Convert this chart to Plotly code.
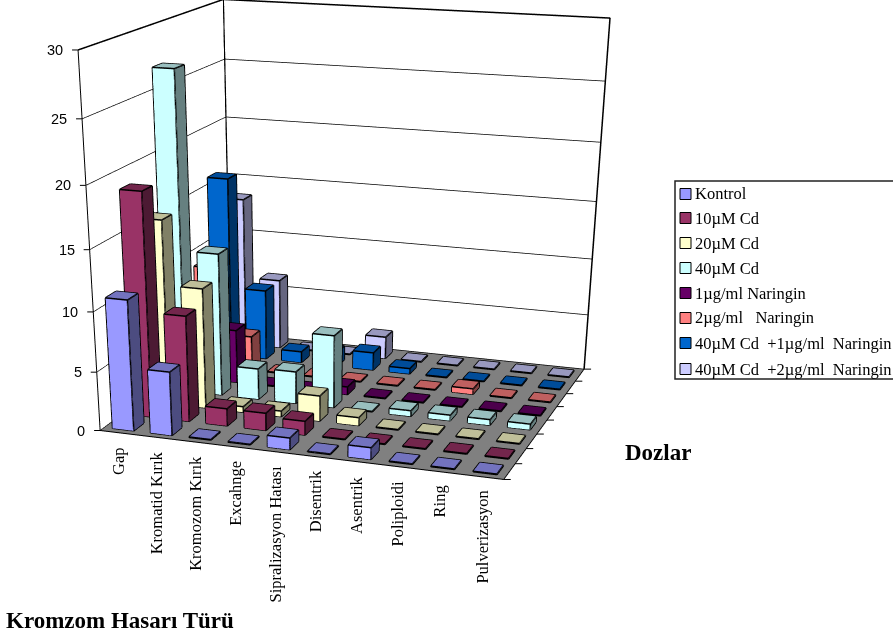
import plotly.graph_objects as go

categories = ["Gap","Kromatid Kırık","Kromozom Kırık","Excahnge","Sipralizasyon Hatası","Disentrik","Asentrik","Poliploidi","Ring","Pulverizasyon"]
series_names = ["Kontrol","10µM Cd","20µM Cd","40µM Cd","1µg/ml Naringin","2µg/ml \u00a0 Naringin","40µM Cd \u00a0+1µg/ml \u00a0Naringin","40µM Cd \u00a0+2µg/ml \u00a0Naringin"]
colors = ["#9999FF","#993366","#FFFFCC","#CCFFFF","#660066","#FF8080","#0066CC","#CCCCFF"]
kontrol = [11,5.4,0,0,1,0,1,0,0,0]
cd10 = [18.8,9,1.5,1.5,1.2,0,0,0,0,0]
cd20 = [15.7,10.3,.5,.5,2.2,.7,0,0,0,0]
cd40 = [27,12.3,2.7,2.8,6.3,0,.5,.5,.5,.5]
nar1 = [3,4.7,0,0,.7,0,0,0,0,0]
nar2 = [9,3.1,0,0,0,0,0,.5,0,0]
cd40nar1 = [16,6.3,1,1.3,1.6,.5,0,0,0,0]
cd40nar2 = [13.4,6.3,0,0,2,0,0,0,0,0]
values = [kontrol,cd10,cd20,cd40,nar1,nar2,cd40nar1,cd40nar2]
ztick = [0,5,10,15,20,25,30]

# The tall canvas gives the 3D scene a long focal length; the page shows its top part.
W, H = 893, 1556
VIEW_W = 622
EYE = dict(x=1.4157,y=-4.3682,z=1.0854)
CENTER = dict(x=0.1332,y=-0.7005,z=-1.1328)
UP = dict(x=0,y=0,z=1)
ASPECT = dict(x=1,y=0.8609,z=0.8653)

def bars():
    out=[]
    gap=0.22
    for s,row in enumerate(values):
        xs,ys,zs,i,j,k,fc=[],[],[],[],[],[],[]
        lx,ly,lz=[],[],[]
        base=colors[s]
        r,g,b=int(base[1:3],16),int(base[3:5],16),int(base[5:7],16)
        top=f"rgb({r*.75:.0f},{g*.75:.0f},{b*.75:.0f})"
        side=f"rgb({r*.5:.0f},{g*.5:.0f},{b*.5:.0f})"
        for c,v in enumerate(row):
            # zero values still show as a thin plate on the floor
            h=max(v,0.06)
            x0,x1=c+gap,c+1-gap
            y0,y1=s+gap,s+1-gap
            n=len(xs)
            xs+=[x0,x1,x1,x0,x0,x1,x1,x0]
            ys+=[y0,y0,y1,y1,y0,y0,y1,y1]
            zs+=[0,0,0,0,h,h,h,h]
            for a,bb,cc,col in [(0,1,5,base),(0,5,4,base),(1,2,6,side),(1,6,5,side),(4,5,6,top),(4,6,7,top)]:
                i.append(n+a);j.append(n+bb);k.append(n+cc);fc.append(col)
            for a,bb in [(0,1),(1,5),(5,4),(4,0),(1,2),(2,6),(6,5),(6,7),(7,4)]:
                lx+=[xs[n+a],xs[n+bb],None];ly+=[ys[n+a],ys[n+bb],None];lz+=[zs[n+a],zs[n+bb],None]
        out.append(go.Mesh3d(x=xs,y=ys,z=zs,i=i,j=j,k=k,facecolor=fc,flatshading=True,
            lighting=dict(ambient=1,diffuse=0,specular=0,fresnel=0),hoverinfo="skip",showscale=False))
        out.append(go.Scatter3d(x=lx,y=ly,z=lz,mode="lines",line=dict(color="black",width=3),hoverinfo="skip",showlegend=False))
    return out

fig=go.Figure(bars())
# wall top edges and the back corner
fig.add_trace(go.Scatter3d(x=[0,0,10,10,None,0,0],y=[0,8,8,8,None,8,8],z=[30,30,30,0,None,0,30],mode="lines",line=dict(color="black",width=3),showlegend=False,hoverinfo="skip"))

axis=dict(showbackground=True,backgroundcolor="white",showgrid=False,zeroline=False,showticklabels=False,
          showline=True,linecolor="black",linewidth=2,ticks="",title=dict(text=""),showspikes=False)
tick=dict(showarrow=True,arrowhead=0,arrowwidth=1,arrowcolor="black",standoff=0,text=" ")
scene_ann=[dict(x=c+.5,y=0,z=0,text=t,textangle=-90,showarrow=False,xanchor="center",yanchor="top",yshift=-12,
               font=dict(family="Liberation Serif",size=16.5,color="black")) for c,t in enumerate(categories)]
scene_ann+=[dict(x=0,y=0,z=v,text=str(v),showarrow=False,xanchor="right",xshift=-13,
               font=dict(family="Liberation Sans",size=14.5,color="black")) for v in ztick]
scene_ann+=[dict(tick,x=0,y=0,z=v,ax=-9,ay=0) for v in ztick]
scene_ann+=[dict(tick,x=c,y=0,z=0,ax=0,ay=10) for c in range(11)]
scene_ann+=[dict(tick,x=10,y=s,z=0,ax=10,ay=0) for s in range(9)]

def px(x): return x/W
def py(y): return 1-y/H
shapes=[dict(type="rect",xref="paper",yref="paper",x0=px(675),x1=1.01,y0=py(181),y1=py(379),line=dict(color="#222222",width=1.5),fillcolor="white")]
ann=[]
ys=[194,218,243,268,293,318,343,369]
for yy,c,n in zip(ys,colors,series_names):
    shapes.append(dict(type="rect",xref="paper",yref="paper",x0=px(680),x1=px(691),y0=py(yy-5.5),y1=py(yy+5.5),line=dict(color="black",width=1),fillcolor=c))
    ann.append(dict(xref="paper",yref="paper",x=px(695),y=py(yy),text=n,showarrow=False,xanchor="left",xshift=-2,yanchor="middle",font=dict(family="Liberation Serif",size=16.5,color="black")))
ann.append(dict(xref="paper",yref="paper",x=px(625),y=py(453),text="<b>Dozlar</b>",showarrow=False,xanchor="left",xshift=-2,yanchor="middle",font=dict(family="Liberation Serif",size=23,color="black")))
ann.append(dict(xref="paper",yref="paper",x=px(6),y=py(620),text="<b>Kromzom Hasarı Türü</b>",showarrow=False,xanchor="left",xshift=-2,yanchor="middle",font=dict(family="Liberation Serif",size=23,color="black")))

fig.update_layout(width=W,height=H,margin=dict(l=0,r=0,t=0,b=0),paper_bgcolor="white",showlegend=False,shapes=shapes,annotations=ann,
  scene=dict(domain=dict(x=[0,VIEW_W/W],y=[0,1]),aspectmode="manual",aspectratio=ASPECT,
    camera=dict(eye=EYE,center=CENTER,up=UP,projection=dict(type="perspective")),
    xaxis=dict(axis,range=[0,10],tickmode="array",tickvals=list(range(11))),
    yaxis=dict(axis,range=[0,8],tickmode="array",tickvals=list(range(9))),
    zaxis=dict(axis,range=[0,30],tickmode="array",tickvals=ztick,backgroundcolor="#808080",showgrid=True,gridcolor="black",gridwidth=1.5),
    annotations=scene_ann))
fig.write_html("out.html",post_script="document.documentElement.style.overflow='hidden';")
